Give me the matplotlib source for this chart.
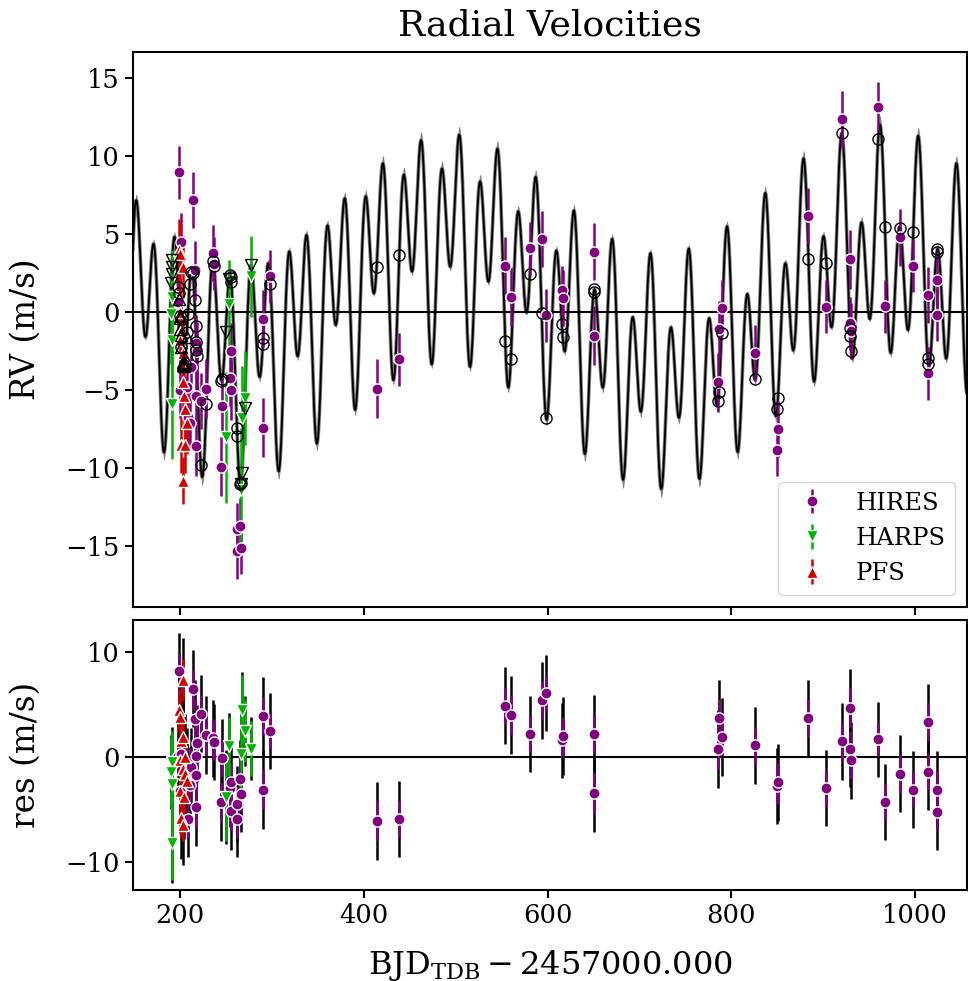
import numpy as np
import matplotlib
matplotlib.use('Agg')
import matplotlib.pyplot as plt

plt.rcParams['font.family'] = 'serif'
plt.rcParams['font.serif'] = ['DejaVu Serif']
plt.rcParams['mathtext.fontset'] = 'dejavuserif'

# --- HIRES ---
hires_t = [198.4, 198.1, 199.5, 201.3, 207.4, 208.5, 210.4, 211.5, 214.0, 215.8,
           216.9, 218.0, 217.5, 217.8, 222.4, 228.6, 236.0, 236.9, 244.9, 246.0,
           254.0, 255.1, 255.8, 261.9, 262.2, 265.8, 266.1, 290.1, 290.4, 298.4,
           414.0, 438.6, 553.9, 560.1, 580.8, 593.5, 598.3, 615.5, 616.4, 650.2,
           650.9, 785.6, 786.5, 789.4, 825.4, 849.9, 850.8, 884.0, 903.6, 920.3,
           929.0, 929.4, 930.4, 959.9, 967.2, 983.9, 998.0, 1013.7, 1014.4, 1023.6,
           1024.2]
hires_rv = [9.0, 0.66, -5.0, 4.5, -4.8, -6.7, -7.1, -3.5, 7.2, 2.7,
            -2.0, -2.45, -5.4, -8.6, -5.7, -4.9, 3.8, 3.1, -9.9, -6.0,
            -4.2, -5.0, -2.5, -13.9, -15.3, -13.7, -15.1, -0.4, -7.4, 2.3,
            -4.9, -3.0, 3.0, 1.0, 4.1, 4.7, -0.2, 1.4, 0.9, 3.9,
            -1.5, -4.5, -1.1, 0.3, -2.6, -8.8, -7.5, 6.2, 0.36, 12.4,
            -0.7, 3.4, -1.2, 13.2, 0.4, 4.8, 3.0, 1.1, -3.9, -0.15,
            2.1]
hires_err = [1.7, 1.8, 1.8, 1.9, 1.8, 1.7, 1.8, 1.9, 1.8, 1.9,
             1.8, 1.8, 1.7, 1.9, 1.8, 1.9, 1.8, 1.7, 1.9, 1.8,
             1.8, 1.9, 1.8, 1.7, 1.8, 1.8, 1.7, 1.8, 1.9, 1.7,
             1.9, 1.7, 1.8, 1.9, 1.7, 1.8, 1.7, 1.6, 1.8, 1.8,
             1.9, 1.9, 1.8, 1.8, 1.8, 1.7, 1.8, 1.8, 1.7, 1.8,
             1.7, 1.9, 1.8, 1.6, 1.7, 1.8, 1.7, 1.8, 1.7, 1.7,
             1.8]
hires_res = [8.2, 0.1, -3.2, 0.3, -0.9, -5.9, -2.7, -1.0, 6.5, 3.6,
             0.1, 1.3, -1.7, -4.8, 4.1, 2.1, 1.8, 1.4, -4.3, -0.1,
             -3.0, -5.1, -2.4, -4.5, -5.9, -2.1, -3.5, 3.9, -3.1, 2.5,
             -6.1, -5.9, 4.9, 4.0, 2.2, 5.4, 6.1, 1.6, 2.0, 2.2,
             -3.4, 0.8, 3.7, 1.9, 1.1, -2.8, -2.4, 3.7, -3.0, 1.5,
             0.8, 4.7, -0.3, 1.7, -4.3, -1.6, -3.1, 3.3, -1.4, -5.2,
             -3.1]
hires_jit = 3.2

# --- HARPS ---
harps_t = [191.1, 190.4, 190.8, 191.5, 253.2, 249.6, 270.3, 267.4, 266.0, 277.2]
harps_rv = [1.0, -0.1, -1.75, -5.9, 0.55, -8.0, -5.5, -6.75, -11.4, 2.3]
harps_err = [3.0, 3.2, 3.0, 3.5, 2.8, 4.2, 3.0, 3.3, 4.0, 2.6]
harps_res = [-0.5, -1.4, -2.6, -8.2, 1.0, -3.8, 2.5, 4.5, 0.3, 0.8]
harps_jit = 1.5

# --- PFS ---
pfs_t = [198.7, 199.5, 199.6, 200.5, 200.2, 201.3, 203.3, 203.1, 203.0, 202.7,
         204.1, 204.9, 205.5, 207.1]
pfs_rv = [4.0, 3.75, 0.0, -1.2, -1.8, -8.5, 2.9, -2.6, -4.5, -10.8,
          -5.4, -8.5, -6.2, -7.1]
pfs_err = [2.0, 1.9, 2.2, 2.0, 2.1, 1.8, 2.0, 2.2, 1.9, 1.5,
           2.0, 1.8, 2.1, 2.0]
pfs_res = [4.5, 3.8, -0.3, 1.5, -3.2, -5.8, 7.3, 1.9, -1.1, -6.5,
           -3.8, -1.6, 0.0, -2.3]
pfs_jit = 3.5

# --- model parameters ---
P_B, T_B, K_B = 20.785, 307.4, 5.1     # inner signal, trough at T_B
P_A, T_A, K_A = 42.1, 307.4, 3.3       # outer signal, trough at T_A
P_L, T_L, K_L = 470.0, 490.0, 4.1      # long-period signal, peak at T_L
OFFSET = 0.6
TREND = -0.0025                        # m/s per day, about day 600


def rv_model(t):
    t = np.asarray(t, dtype=float)
    slow = (OFFSET + TREND * (t - 600)
            + K_L * np.cos(2 * np.pi * (t - T_L) / P_L))
    return (slow - K_A * np.cos(2 * np.pi * (t - T_A) / P_A)
            - K_B * np.cos(2 * np.pi * (t - T_B) / P_B))


instruments = [
    ('HIRES', hires_t, hires_rv, hires_err, hires_res, hires_jit, 'o', 'purple'),
    ('HARPS', harps_t, harps_rv, harps_err, harps_res, harps_jit, 'v', '#00b400'),
    ('PFS', pfs_t, pfs_rv, pfs_err, pfs_res, pfs_jit, '^', '#d40000'),
]

fig = plt.figure(figsize=(9.68, 9.81), dpi=100)
ax1 = fig.add_axes([0.1374, 0.3813, 0.862, 0.5657])
ax2 = fig.add_axes([0.1374, 0.0928, 0.862, 0.2752], sharex=ax1)

tt = np.linspace(140, 1070, 6000)
mm = rv_model(tt)
band = 0.15 + 0.035 * np.abs(mm)
ax1.fill_between(tt, mm - band, mm + band, color='grey', lw=0, zorder=1)
ax1.plot(tt, mm, color='grey', lw=2.6, zorder=1)
ax1.plot(tt, mm, color='k', lw=1.3, zorder=2)
ax1.axhline(0, color='k', lw=1.5, zorder=2)
ax2.axhline(0, color='k', lw=1.5, zorder=1)

for name, t, rv, err, res, jit, mk, col in instruments:
    t = np.array(t)
    err = np.array(err)
    ax1.errorbar(t, rv, yerr=err, fmt=mk, color=col, ms=8, mec='white', mew=1,
                 elinewidth=1.8, capsize=0, label=name, zorder=3)
    ax1.plot(t, rv_model(t), ls='none', marker=mk, mfc='none', mec='k',
             ms=8, mew=1, zorder=4)
    ax2.errorbar(t, res, yerr=np.hypot(err, jit), fmt='none', ecolor='k',
                 elinewidth=1.8, capsize=0, zorder=2)
    ax2.errorbar(t, res, yerr=err, fmt=mk, color=col, ms=8, mec='white', mew=1,
                 elinewidth=1.8, capsize=0, zorder=3)

ax1.set_xlim(148.8, 1057)
ax1.set_ylim(-18.9, 16.7)
ax2.set_ylim(-12.67, 13.05)
ax1.set_yticks([-15, -10, -5, 0, 5, 10, 15])
ax2.set_yticks([-10, 0, 10])
ax2.set_xticks([200, 400, 600, 800, 1000])

for ax in (ax1, ax2):
    ax.tick_params(direction='out', length=6, width=1.5, labelsize=18.5)
    for s in ax.spines.values():
        s.set_linewidth(1.5)
ax1.tick_params(labelbottom=False)

ax1.set_title('Radial Velocities', fontsize=26, pad=12)
ax1.set_ylabel('RV (m/s)', fontsize=23.5)
ax2.set_ylabel('res (m/s)', fontsize=23.5)
ax1.yaxis.set_label_coords(-0.109, 0.5)
ax2.yaxis.set_label_coords(-0.109, 0.5)
ax2.set_xlabel(r'$\mathrm{BJD}_{\mathrm{TDB}} - 2457000.000$', fontsize=23,
               labelpad=14)

ax1.legend(loc='lower right', fontsize=17.5)

fig.savefig('out.png', dpi=100)
